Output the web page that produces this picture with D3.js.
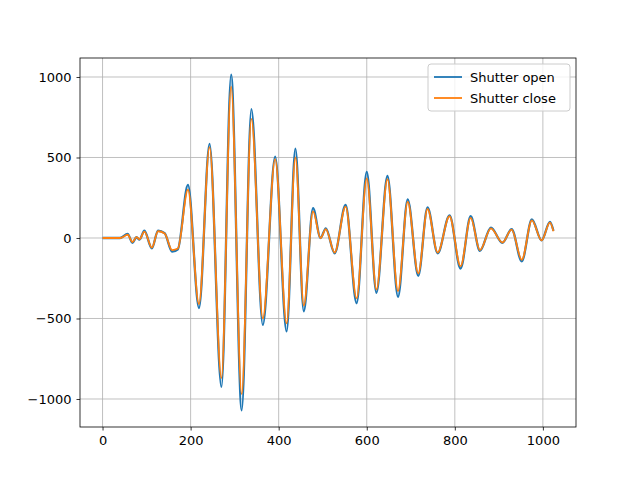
<!DOCTYPE html>
<html>
<head>
<meta charset="utf-8">
<script src="https://cdn.jsdelivr.net/npm/d3@7"></script>
<style>
  body { margin: 0; background: #fff; }
  svg text { font-family: 'DejaVu Sans', sans-serif; }
</style>
</head>
<body>
<svg id="chart" width="640" height="480"></svg>
<script>
// sample index of each turning point
const xs = [0, 40, 57, 68, 77, 84, 95, 112, 126, 141, 158, 171, 194, 219, 243, 270, 292, 316, 338, 364, 392, 418, 438, 457, 478, 495, 507, 527,
  552, 577, 600, 622, 647, 671, 693, 717, 738, 761, 788, 813, 836, 857, 882, 908, 929, 952, 975, 997, 1016, 1024]
const shutterOpen = [0, 0, 25, -30, 5, -10, 45, -65, 45, 30, -85, -70, 330, -435, 585, -925, 1015, -1070, 800, -540, 505, -580, 555, -455, 185, 0, 60, -95,
  205, -405, 410, -340, 385, -365, 240, -235, 190, -95, 140, -190, 135, -80, 65, -30, 55, -145, 115, -15, 100, 45]
const shutterClose = [0, 0, 20, -25, 5, -8, 40, -60, 42, 28, -75, -65, 300, -410, 565, -870, 940, -970, 740, -500, 490, -530, 500, -420, 165, 0, 55, -90,
  195, -375, 370, -320, 365, -330, 225, -220, 180, -90, 135, -175, 125, -75, 60, -28, 52, -135, 110, -15, 95, 42]
const xTicks = [0, 200, 400, 600, 800, 1000]
const yTicks = [-1000, -500, 0, 500, 1000]
const seriesNames = ['Shutter open', 'Shutter close']
const colors = ['#1f77b4', '#ff7f0e']

const margin = { left: 80, top: 58, right: 64, bottom: 53 }
const width = 640 - margin.left - margin.right
const height = 480 - margin.top - margin.bottom

const svg = d3.select('#chart')
const g = svg.append('g').attr('transform', `translate(${margin.left},${margin.top})`)

const x = d3.scaleLinear().domain([-51.2, 1075.2]).range([0, width])
const y = d3.scaleLinear().domain([-1174, 1118]).range([height, 0])

// grid
g.append('g').selectAll('line').data(xTicks).enter().append('line')
  .attr('x1', d => x(d)).attr('x2', d => x(d)).attr('y1', 0).attr('y2', height)
  .attr('stroke', '#b0b0b0').attr('stroke-width', 0.8)
g.append('g').selectAll('line').data(yTicks).enter().append('line')
  .attr('y1', d => y(d)).attr('y2', d => y(d)).attr('x1', 0).attr('x2', width)
  .attr('stroke', '#b0b0b0').attr('stroke-width', 0.8)

const line = d3.line().x(d => x(d[0])).y(d => y(d[1])).curve(d3.curveMonotoneX)
;[shutterOpen, shutterClose].forEach((vals, i) => {
  g.append('path')
    .datum(xs.map((v, j) => [v, vals[j]]))
    .attr('d', line)
    .attr('fill', 'none')
    .attr('stroke', colors[i])
    .attr('stroke-width', i === 0 ? 2.3 : 1.8)
})

// axes
const xAxis = g.append('g').attr('transform', `translate(0,${height})`)
  .call(d3.axisBottom(x).tickValues(xTicks).tickSize(3.5).tickPadding(5).tickFormat(d3.format('d')))
const yAxis = g.append('g')
  .call(d3.axisLeft(y).tickValues(yTicks).tickSize(3.5).tickPadding(5).tickFormat(d => d < 0 ? '\u2212' + Math.abs(d) : d))
;[xAxis, yAxis].forEach(a => {
  a.select('.domain').remove()
  a.selectAll('text').attr('font-size', 13).attr('fill', '#000').attr('font-family', 'DejaVu Sans')
  a.selectAll('line').attr('stroke', '#000').attr('stroke-width', 0.8)
})
g.append('rect').attr('width', width).attr('height', height)
  .attr('fill', 'none').attr('stroke', '#000').attr('stroke-width', 0.8)

// legend
const lg = g.append('g').attr('transform', `translate(${width - 148},6)`)
lg.append('rect').attr('width', 142).attr('height', 47).attr('rx', 3)
  .attr('fill', 'rgba(255,255,255,0.8)').attr('stroke', '#cccccc')
seriesNames.forEach((name, i) => {
  const row = lg.append('g').attr('transform', `translate(0,${13 + i * 21})`)
  row.append('line').attr('x1', 6).attr('x2', 34).attr('stroke', colors[i]).attr('stroke-width', 1.8)
  row.append('text').attr('x', 42).attr('dy', '0.35em').attr('font-size', 13).text(name)
})
</script>
</body>
</html>
